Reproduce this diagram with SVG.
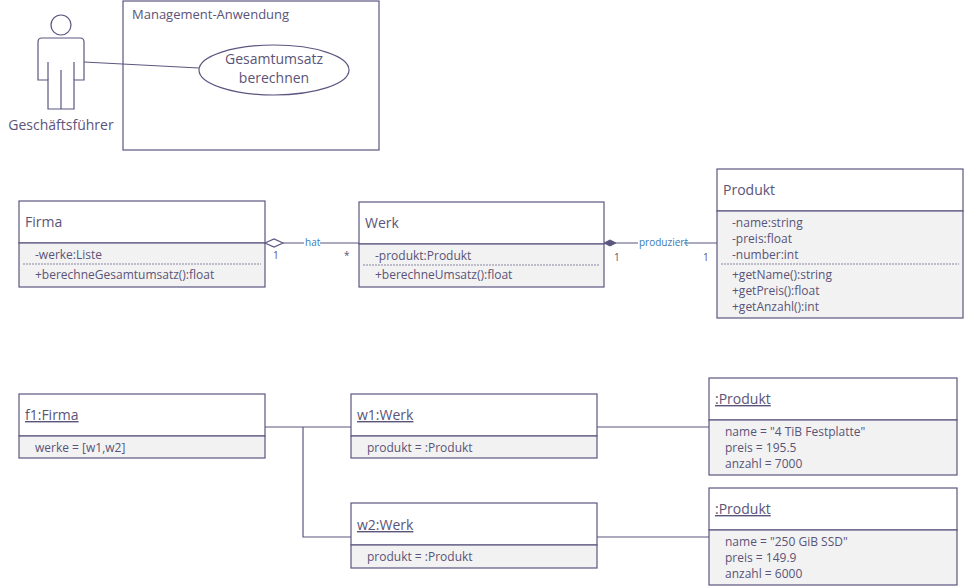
<svg xmlns="http://www.w3.org/2000/svg" width="964" height="588" viewBox="0 0 964 588">
<style>
text{font-family:"Open Sans","Liberation Sans",sans-serif;fill:#5a5478;font-size:12px}
.t{font-size:14px}
.u{text-decoration:underline;font-size:14px}
.s{fill:none;stroke:#5b5680;stroke-width:1.2}
.h{fill:#fff;stroke:#5b5680;stroke-width:1.2}
.b{fill:#f2f2f2;stroke:#5b5680;stroke-width:1.2}
.d{stroke:#8a86a4;stroke-width:1;stroke-dasharray:2,1}
.c{fill:none;stroke:#5b5680;stroke-width:1.2}
.l{fill:#3a7ab5;font-size:10px}
</style>
<rect width="964" height="588" fill="#fff"/>
<g id="system"><rect x="123" y="1" width="256" height="149" class="h"/><text x="132" y="19" style="font-size:13px">Management-Anwendung</text></g>
<g id="actor">
<circle cx="61" cy="25" r="10" class="h"/>
<path d="M38,42 Q38,38 42,38 L80,38 Q84,38 84,42 L84,80 L74,80 L74,109 L48,109 L48,80 L38,80 Z" class="h"/>
<path d="M48,62 V80 M74,62 V80 M61,70 V109" class="s"/>
<text x="61" y="130" text-anchor="middle" class="t">Geschäftsführer</text>
</g>
<g id="usecase"><ellipse cx="274" cy="70" rx="75" ry="25" class="h"/><text x="274" y="64" text-anchor="middle" class="t">Gesamtumsatz</text><text x="274" y="83" text-anchor="middle" class="t">berechnen</text></g>
<g id="firma"><rect x="19" y="201" width="246" height="42" class="h"/><rect x="19" y="243" width="246" height="44" class="b"/><line x1="23" y1="264" x2="261" y2="264" class="d"/>
<text x="25" y="227" class="t">Firma</text><text x="35" y="259">-werke:Liste</text><text x="35" y="279">+berechneGesamtumsatz():float</text></g>
<g id="werk"><rect x="359" y="202" width="245" height="42" class="h"/><rect x="359" y="244" width="245" height="43" class="b"/><line x1="363" y1="265" x2="600" y2="265" class="d"/>
<text x="365" y="228" class="t">Werk</text><text x="375" y="260">-produkt:Produkt</text><text x="375" y="279">+berechneUmsatz():float</text></g>
<g id="produkt"><rect x="717" y="169" width="246" height="42" class="h"/><rect x="717" y="211" width="246" height="107" class="b"/><line x1="721" y1="264" x2="959" y2="264" class="d"/>
<text x="723" y="195" class="t">Produkt</text><text x="732" y="227">-name:string</text><text x="732" y="243">-preis:float</text><text x="732" y="259">-number:int</text><text x="732" y="279">+getName():string</text><text x="732" y="295">+getPreis():float</text><text x="732" y="311">+getAnzahl():int</text></g>
<g id="f1"><rect x="19" y="394" width="246" height="42" class="h"/><rect x="19" y="436" width="246" height="22" class="b"/><text x="25" y="420" class="u">f1:Firma</text><text x="35" y="452">werke = [w1,w2]</text></g>
<g id="w1"><rect x="351" y="394" width="246" height="42" class="h"/><rect x="351" y="436" width="246" height="22" class="b"/><text x="357" y="420" class="u">w1:Werk</text><text x="367" y="452">produkt = :Produkt</text></g>
<g id="w2"><rect x="351" y="503" width="246" height="42" class="h"/><rect x="351" y="545" width="246" height="23" class="b"/><text x="357" y="530" class="u">w2:Werk</text><text x="367" y="561">produkt = :Produkt</text></g>
<g id="p1"><rect x="709" y="378" width="248" height="42" class="h"/><rect x="709" y="420" width="248" height="55" class="b"/><text x="715" y="404" class="u">:Produkt</text><text x="725" y="436">name = "4 TiB Festplatte"</text><text x="725" y="452">preis = 195.5</text><text x="725" y="468">anzahl = 7000</text></g>
<g id="p2"><rect x="709" y="488" width="248" height="42" class="h"/><rect x="709" y="530" width="248" height="55" class="b"/><text x="715" y="514" class="u">:Produkt</text><text x="725" y="546">name = "250 GiB SSD"</text><text x="725" y="562">preis = 149.9</text><text x="725" y="578">anzahl = 6000</text></g>
<g id="connectors">
<line x1="84" y1="62" x2="199" y2="68" class="c"/>
<path d="M265,243 L274,239 L283,243 L274,247 Z" fill="#fff" stroke="#5b5680" stroke-width="1.2"/>
<line x1="283" y1="243" x2="359" y2="243" class="c"/>
<rect x="304" y="237" width="16" height="11" fill="#fff"/><text x="305" y="246" class="l">hat</text>
<text x="273" y="259" style="font-size:10px">1</text><text x="344" y="259" style="font-size:10px">*</text>
<path d="M604,243 L610,240 L616,243 L610,246 Z" fill="#5b5680" stroke="#5b5680"/>
<line x1="616" y1="243" x2="717" y2="243" class="c"/>
<rect x="638" y="237" width="46" height="11" fill="#fff"/><text x="639" y="246" class="l">produziert</text>
<text x="614" y="261" style="font-size:10px">1</text><text x="703" y="261" style="font-size:10px">1</text>
<path d="M265,427 H303 H351 M303,427 V537 H351 M597,427 H709 M597,537 H709" class="c"/>
</g>
</svg>
